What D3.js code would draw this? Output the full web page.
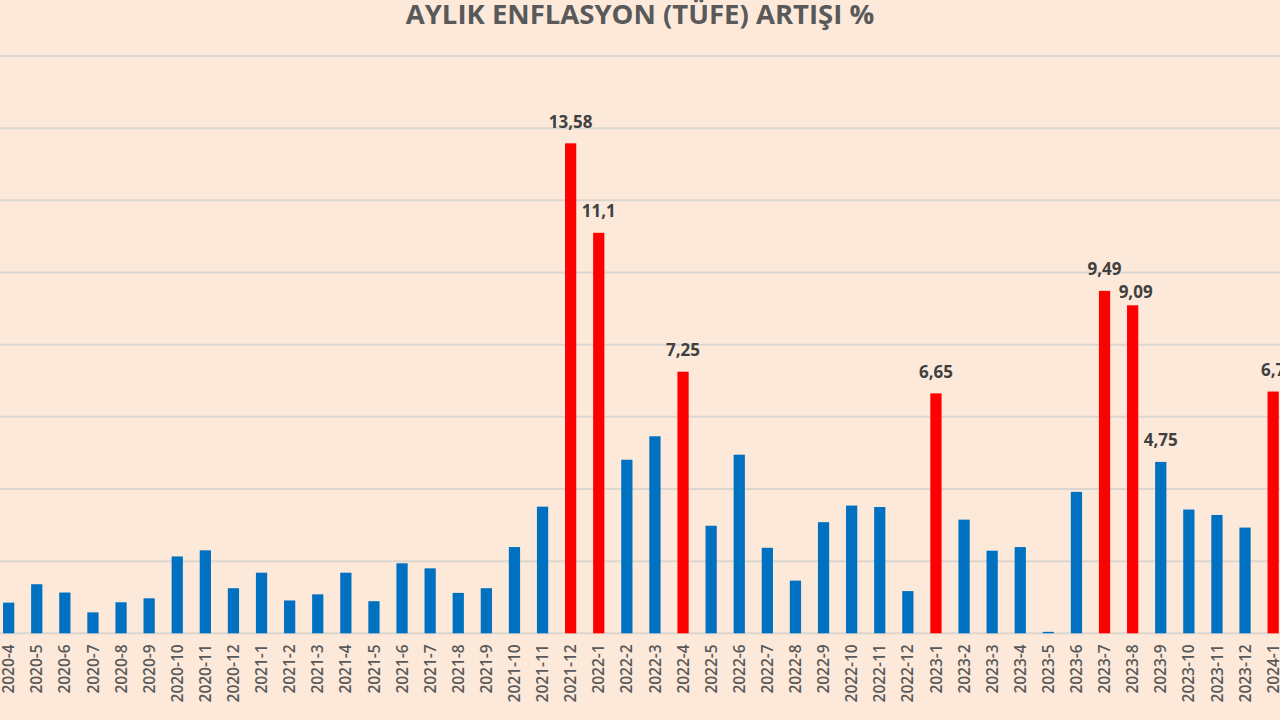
<!DOCTYPE html>
<html><head><meta charset="utf-8">
<script src="https://cdn.jsdelivr.net/npm/d3@7"></script>
<style>body{margin:0;background:#FCE9DA;}svg{display:block;}</style>
</head><body>
<svg id="c" width="1280" height="720"></svg>
<script>
const months = ["2020-4","2020-5","2020-6","2020-7","2020-8","2020-9","2020-10","2020-11","2020-12",
"2021-1","2021-2","2021-3","2021-4","2021-5","2021-6","2021-7","2021-8","2021-9","2021-10","2021-11","2021-12",
"2022-1","2022-2","2022-3","2022-4","2022-5","2022-6","2022-7","2022-8","2022-9","2022-10","2022-11","2022-12",
"2023-1","2023-2","2023-3","2023-4","2023-5","2023-6","2023-7","2023-8","2023-9","2023-10","2023-11","2023-12","2024-1"];
const values = [0.85,1.36,1.13,0.58,0.86,0.97,2.13,2.30,1.25,
1.68,0.91,1.08,1.68,0.89,1.94,1.80,1.12,1.25,2.39,3.51,13.58,
11.10,4.81,5.46,7.25,2.98,4.95,2.37,1.46,3.08,3.54,3.50,1.17,
6.65,3.15,2.29,2.39,0.04,3.92,9.49,9.09,4.75,3.43,3.28,2.93,6.70];
const highlighted = ["2021-12","2022-1","2022-4","2023-1","2023-7","2023-8","2024-1"];
const labelled = {"2021-12":"13,58","2022-1":"11,1","2022-4":"7,25","2023-1":"6,65","2023-7":"9,49","2023-8":"9,09","2023-9":"4,75","2024-1":"6,7"};
const yTicks = [0,2,4,6,8,10,12,14,16];
const title = "AYLIK ENFLASYON (TÜFE) ARTIŞI %";

const svg = d3.select("#c");
svg.append("rect").attr("width",1280).attr("height",720).attr("fill","#FCE9DA");

const x = d3.scaleBand().domain(months).range([-5.4, 1287.2]).paddingInner(0.6).paddingOuter(0.3);
const y = d3.scaleLinear().domain([0,16]).range([633.3, 56]);

svg.append("g").selectAll("line").data(yTicks).join("line")
  .attr("x1",0).attr("x2",1280).attr("y1",d=>y(d)).attr("y2",d=>y(d))
  .attr("stroke","#DCD6D0").attr("stroke-width",2);

const data = months.map((m,i)=>({m, v: values[i]}));
svg.append("g").selectAll("rect").data(data).join("rect")
  .attr("x",d=>x(d.m)).attr("width",x.bandwidth())
  .attr("y",d=>y(d.v)).attr("height",d=>y(0)-y(d.v))
  .attr("fill",d=>highlighted.includes(d.m)?"#FF0000":"#0070C0");

svg.append("g").selectAll("text").data(data.filter(d=>labelled[d.m])).join("text")
  .attr("x",d=>x(d.m)+x.bandwidth()/2 + (d.m==="2023-8"?3:0))
  .attr("y",d=>y(d.v) - (d.m==="2023-8"?12:20))
  .attr("text-anchor","middle").attr("dominant-baseline","middle")
  .attr("font-family","Open Sans").attr("font-weight",700).attr("font-size",17)
  .attr("fill","#404040").text(d=>labelled[d.m]);

const xAxis = svg.append("g").attr("transform",`translate(0,${y(0)})`)
  .call(d3.axisBottom(x).tickSize(0).tickPadding(0));
xAxis.select(".domain").remove();
xAxis.selectAll("text")
  .attr("transform","rotate(-90)").attr("x",-11).attr("y",0).attr("dy","0.36em")
  .attr("text-anchor","end")
  .attr("font-family","Open Sans").attr("font-weight",600).attr("font-size",15.5)
  .attr("fill","#595959");

svg.append("text").attr("x",640).attr("y",17).attr("text-anchor","middle").attr("dominant-baseline","middle")
  .attr("font-family","Open Sans").attr("font-weight",700).attr("font-size",27.5)
  .attr("fill","#595959").text(title);
</script>
</body></html>
